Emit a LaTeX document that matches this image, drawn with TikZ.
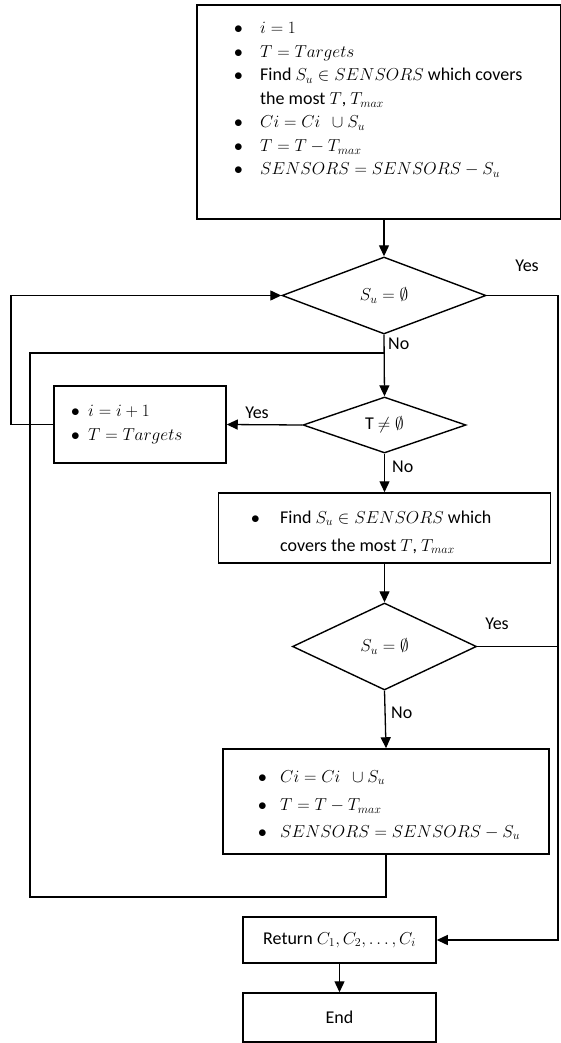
\documentclass[tikz,border=0pt]{standalone}
\usepackage{amsmath,amssymb}
\usepackage[no-math]{fontspec}
\setmainfont{Carlito}
\usetikzlibrary{shapes.geometric,arrows.meta}
\newcommand{\bu}[1]{\makebox[#1][l]{$\bullet$}}
\begin{document}
\begin{tikzpicture}[x=1pt,y=-1pt,
  font=\fontsize{18}{23.5}\selectfont,
  box/.style={draw, line width=1.5pt, inner sep=0pt},
  dia/.style={diamond, draw, aspect=3, inner sep=0pt, line width=1.4pt},
  txt/.style={inner sep=0pt},
  ln/.style={line width=1.3pt},
  arr/.style={ln, -{Triangle[length=11pt,width=10pt]}}]
\useasboundingbox (0,0) rectangle (560,1043);

% boxes
\node[box, minimum width=364pt, minimum height=214pt] (top) at (379,112) {};
\node[txt, anchor=base west] (toptxt) at (234,34) {\begin{tabular}[t]{@{}l@{}l@{}}
\bu{26pt} & $i=1$\\
\bu{26pt} & $T = Targets$\\
\bu{26pt} & Find $S_u \in SENSORS$ which covers\\
 & the most $T$, $T_{max}$\\
\bu{26pt} & $Ci = Ci\;\,\cup S_u$\\
\bu{26pt} & $T = T - T_{max}$\\
\bu{26pt} & $SENSORS = SENSORS - S_u$
\end{tabular}};

\node[dia, minimum width=204pt, minimum height=77pt] (d1) at (384,295.5) {$S_u = \emptyset$};
\node[dia, minimum width=163pt, minimum height=56pt] (d2) at (384.5,425) {T $\neq \emptyset$};

\node[box, minimum width=172pt, minimum height=77pt] (lb) at (140,424.5) {};
\node[txt, anchor=base west] (lbtxt) at (71,416) {\begin{tabular}[t]{@{}l@{}l@{}}
\bu{17pt} & $i = i + 1$\\[0.5pt]
\bu{17pt} & $T = Targets$
\end{tabular}};

\node[box, minimum width=332pt, minimum height=70pt] (find) at (384.5,528) {};
\node[txt, anchor=base west] (findtxt) at (251,523) {\begin{tabular}[t]{@{}l@{}l@{}}
\bu{29pt} & Find $S_u \in SENSORS$ which\\[4.5pt]
 & covers the most $T$, $T_{max}$
\end{tabular}};

\node[dia, minimum width=184pt, minimum height=87pt] (d3) at (384.5,646.5) {$S_u = \emptyset$};

\node[box, minimum width=326pt, minimum height=105pt] (low) at (386,801.5) {};
\node[txt, anchor=base west] (lowtxt) at (258,782) {\begin{tabular}[t]{@{}l@{}l@{}}
\bu{22pt} & $Ci = Ci\;\,\cup S_u$\\[5pt]
\bu{22pt} & $T = T - T_{max}$\\[3pt]
\bu{22pt} & $SENSORS = SENSORS - S_u$
\end{tabular}};

\node[box, minimum width=193pt, minimum height=46pt] (ret) at (339.5,940) {Return $C_1, C_2, \ldots, C_i$};
\node[box, minimum width=193pt, minimum height=49pt] (end) at (339.5,1017.5) {End};

% labels
\node[txt] (y1) at (527,266) {Yes};
\node[txt, anchor=west] (n1) at (388,344) {No};
\node[txt] (y2) at (257,413) {Yes};
\node[txt, anchor=west] (n2) at (392,467) {No};
\node[txt] (y3) at (497,624) {Yes};
\node[txt, anchor=west] (n3) at (391,713) {No};

% helper coordinates
\coordinate (R) at (558,0);
\coordinate (OL) at (11,0);
\coordinate (ILb) at (30,897);
\coordinate (ILt) at (30,353);

% connectors
\draw[arr] (d1.north |- top.south) -- (d1.north);
\draw[arr] (d1.east) -- (d1.east -| R) |- (ret.east);
\draw[arr] (d1.south) -- (d2.north);
\draw[ln] (low.south) |- (ILb) |- (d1.south |- ILt);
\draw[arr] (d2.west) -- (lb.east);
\draw[arr] (lb.west) -- (lb.west -| OL) |- (d1.west);
\draw[arr] (d2.south) -- (find.north);
\draw[arr] (find.south) -- (d3.north);
\draw[ln] (d3.east) -- (d3.east -| R);
\draw[arr] (d3.south) -- (low.north);
\draw[arr] (ret.south) -- (end.north);
\end{tikzpicture}
\end{document}
